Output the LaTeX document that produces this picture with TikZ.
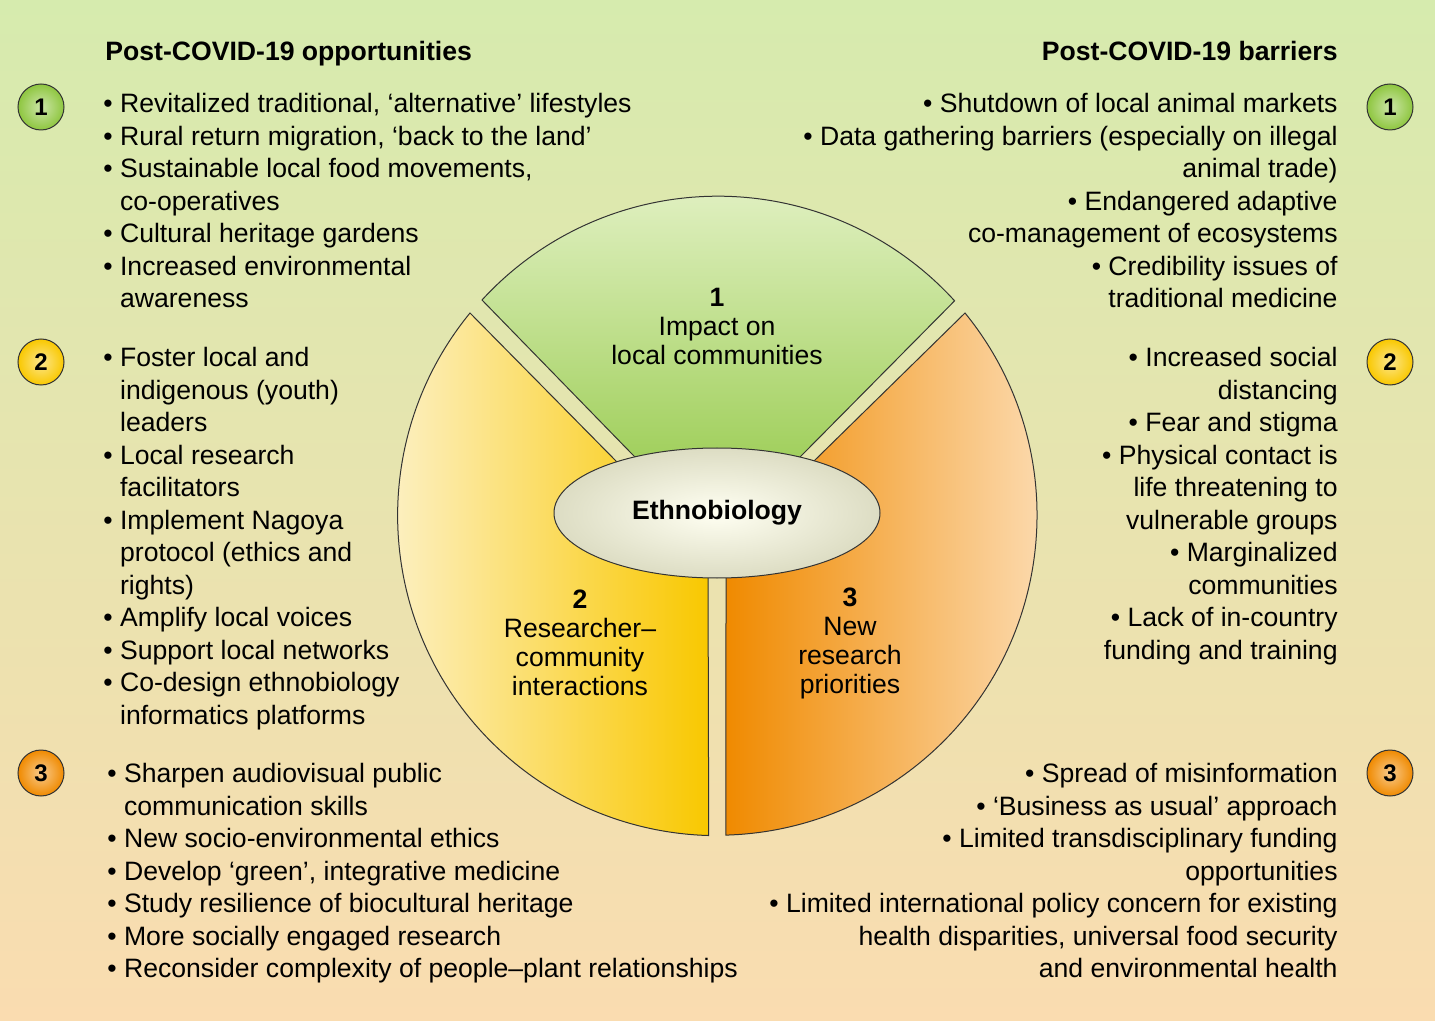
\documentclass[tikz,border=0pt]{standalone}
\usepackage{fontspec}
\setmainfont{Liberation Sans}
\usetikzlibrary{positioning,shapes.geometric}
\definecolor{bgtop}{HTML}{D6EBAE}
\definecolor{bgmid}{HTML}{FBF0C2}
\definecolor{bgbot}{HTML}{FADCB0}
\definecolor{grtop}{HTML}{E2F1C4}
\definecolor{grbot}{HTML}{8EC63F}
\definecolor{yelight}{HTML}{FDF4D6}
\definecolor{yedark}{HTML}{F9C800}
\definecolor{ordark}{HTML}{F08A00}
\definecolor{orlight}{HTML}{FDE2C0}
\tikzset{
  txt/.style={font=\fontsize{13.3}{16.25}\selectfont, inner sep=0pt},
  lefttxt/.style={txt, anchor=north west, align=left},
  righttxt/.style={txt, anchor=north east, align=right},
  seclabel/.style={txt, align=center, font=\fontsize{13.3}{14.5}\selectfont},
  ball/.style={circle, draw=black!80, line width=0.5pt, minimum size=23pt, inner sep=0pt, font=\bfseries\fontsize{12}{12}\selectfont},
}
\newcommand{\cont}{\phantom{\textbullet}\ }
\begin{document}
\begin{tikzpicture}[x=0.5pt, y=-0.5pt]
  \useasboundingbox (0,0) rectangle (1435,1021);
  \shade[top color=bgtop, middle color=bgmid, bottom color=bgbot] (0,0) rectangle (1435,1021);

  % wedges
  \begin{scope}[draw=black!80, line width=0.5pt]
    \draw[top color=grtop, bottom color=grbot]
      (482,300) arc[start angle=222.5, end angle=317.7, radius=320] -- (805,452) -- (717,540) -- (630,452) -- cycle;
    \draw[left color=yelight, right color=yedark]
      (470,313) arc[start angle=219.3, end angle=91.6, radius=320] -- (708,560) -- (615,460) -- cycle;
    \draw[left color=ordark, right color=orlight]
      (965,313) arc[start angle=-39.2, end angle=88.4, radius=320] -- (726,560) -- (815,460) -- cycle;
  \end{scope}
  \node[ellipse, draw=black!80, line width=0.5pt, inner color=white!95!yellow, outer color=black!15!white!90!yellow,
        minimum width=163pt, minimum height=65pt, font=\bfseries\fontsize{13.3}{13}\selectfont] (ethno) at (717,513) {Ethnobiology};

  \node[seclabel] (s1) at (717,326) {\textbf{1}\\Impact on\\local communities};
  \node[seclabel] (s2) at (580,643) {\textbf{2}\\Researcher--\\community\\interactions};
  \node[seclabel] (s3) at (850,643) {\textbf{3}\\New\\research\\priorities};

  % headers
  \node[txt, anchor=base west, font=\bfseries\fontsize{13.3}{15}\selectfont] (hl) at (105,61) {Post-COVID-19 opportunities};
  \node[txt, anchor=base east, font=\bfseries\fontsize{13.3}{15}\selectfont] (hr) at (1338,61) {Post-COVID-19 barriers};

  % balls
  \foreach \y/\n/\c in {107/1/grbot, 362/2/yedark, 773/3/ordark}{
    \node[ball, inner color=white!55!\c, outer color=\c] (bl\n) at (41,\y) {\n};
    \node[ball, inner color=white!55!\c, outer color=\c] (br\n) at (1390,\y) {\n};
  }

  % left column
  \node[lefttxt] (l1) at (103,93) {\textbullet\ Revitalized traditional, ‘alternative’ lifestyles\\
    \textbullet\ Rural return migration, ‘back to the land’\\
    \textbullet\ Sustainable local food movements,\\ \cont co-operatives\\
    \textbullet\ Cultural heritage gardens\\
    \textbullet\ Increased environmental\\ \cont awareness};
  \node[lefttxt] (l2) at (103,347) {\textbullet\ Foster local and\\ \cont indigenous (youth)\\ \cont leaders\\
    \textbullet\ Local research\\ \cont facilitators\\
    \textbullet\ Implement Nagoya\\ \cont protocol (ethics and\\ \cont rights)\\
    \textbullet\ Amplify local voices\\
    \textbullet\ Support local networks\\
    \textbullet\ Co-design ethnobiology\\ \cont informatics platforms};
  \node[lefttxt] (l3) at (107,763) {\textbullet\ Sharpen audiovisual public\\ \cont communication skills\\
    \textbullet\ New socio-environmental ethics\\
    \textbullet\ Develop ‘green’, integrative medicine\\
    \textbullet\ Study resilience of biocultural heritage\\
    \textbullet\ More socially engaged research\\
    \textbullet\ Reconsider complexity of people--plant relationships};

  % right column
  \node[righttxt] (r1) at (1338,93) {\textbullet\ Shutdown of local animal markets\\
    \textbullet\ Data gathering barriers (especially on illegal\\ animal trade)\\
    \textbullet\ Endangered adaptive\\ co-management of ecosystems\\
    \textbullet\ Credibility issues of\\ traditional medicine};
  \node[righttxt] (r2) at (1338,347) {\textbullet\ Increased social\\ distancing\\
    \textbullet\ Fear and stigma\\
    \textbullet\ Physical contact is\\ life threatening to\\ vulnerable groups\\
    \textbullet\ Marginalized\\ communities\\
    \textbullet\ Lack of in-country\\ funding and training};
  \node[righttxt] (r3) at (1338,763) {\textbullet\ Spread of misinformation\\
    \textbullet\ ‘Business as usual’ approach\\
    \textbullet\ Limited transdisciplinary funding\\ opportunities\\
    \textbullet\ Limited international policy concern for existing\\ health disparities, universal food security\\ and environmental health};
\end{tikzpicture}
\end{document}
